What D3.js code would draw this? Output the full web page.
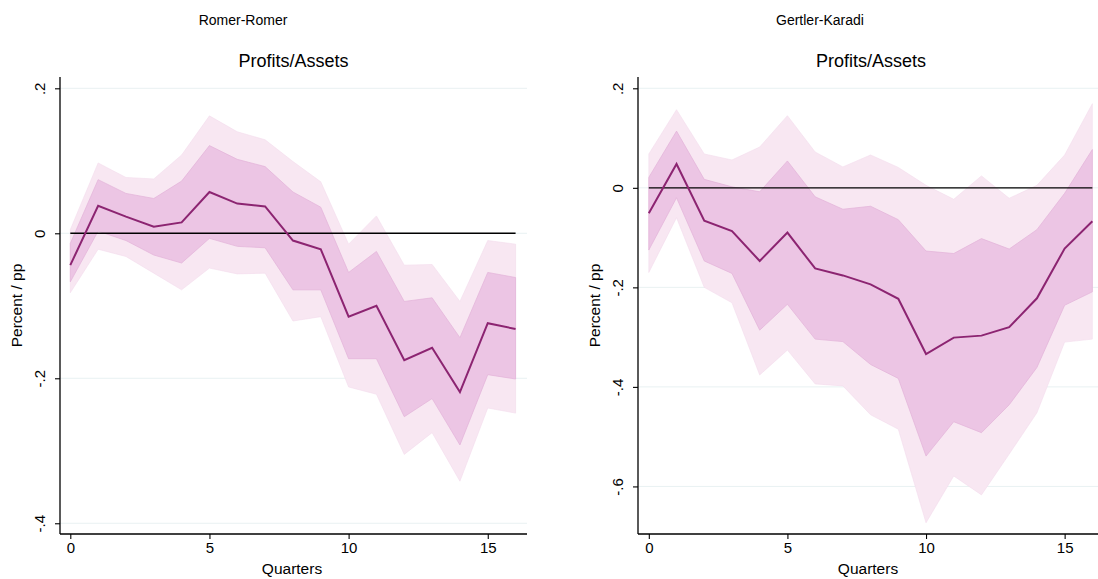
<!DOCTYPE html>
<html>
<head>
<meta charset="utf-8">
<script src="https://cdn.jsdelivr.net/npm/d3@7/dist/d3.min.js"></script>
<style>
  html, body { margin: 0; padding: 0; background: #fff; }
  svg { display: block; }
  text { font-family: "Liberation Sans", Arial, Helvetica, sans-serif; fill: #000; }
</style>
</head>
<body>
<svg id="chart" width="1098" height="579"></svg>
<script>
// Horizon in quarters
const quarters = [0, 1, 2, 3, 4, 5, 6, 7, 8, 9, 10, 11, 12, 13, 14, 15, 16];

// Romer-Romer shock: response of profits/assets
const rrPoint = [-0.044, 0.038, 0.023, 0.009, 0.015, 0.057, 0.041, 0.037, -0.010, -0.022, -0.115, -0.100, -0.175, -0.158, -0.219, -0.124, -0.132];
const rrHi68  = [-0.014, 0.074, 0.055, 0.048, 0.072, 0.121, 0.102, 0.092, 0.057, 0.036, -0.054, -0.025, -0.094, -0.089, -0.144, -0.054, -0.061];
const rrLo68  = [-0.067, 0.003, -0.010, -0.030, -0.041, -0.007, -0.018, -0.020, -0.078, -0.078, -0.173, -0.173, -0.253, -0.228, -0.292, -0.195, -0.201];
const rrHi90  = [0.005, 0.097, 0.077, 0.075, 0.108, 0.162, 0.140, 0.129, 0.099, 0.071, -0.015, 0.024, -0.044, -0.043, -0.094, -0.010, -0.015];
const rrLo90  = [-0.082, -0.022, -0.032, -0.055, -0.078, -0.048, -0.056, -0.055, -0.121, -0.115, -0.212, -0.222, -0.305, -0.275, -0.342, -0.241, -0.248];

// Gertler-Karadi shock: response of profits/assets
const gkPoint = [-0.051, 0.048, -0.066, -0.087, -0.147, -0.090, -0.162, -0.176, -0.194, -0.223, -0.334, -0.301, -0.297, -0.280, -0.222, -0.122, -0.067];
const gkHi68  = [0.021, 0.114, 0.017, 0.002, -0.008, 0.054, -0.018, -0.043, -0.037, -0.064, -0.127, -0.132, -0.102, -0.123, -0.084, -0.011, 0.077];
const gkLo68  = [-0.125, -0.020, -0.147, -0.172, -0.286, -0.234, -0.304, -0.309, -0.355, -0.383, -0.539, -0.470, -0.492, -0.436, -0.361, -0.236, -0.209];
const gkHi90  = [0.068, 0.157, 0.068, 0.056, 0.082, 0.145, 0.072, 0.042, 0.066, 0.041, 0.005, -0.023, 0.024, -0.021, 0.005, 0.066, 0.169];
const gkLo90  = [-0.170, -0.060, -0.200, -0.231, -0.376, -0.326, -0.394, -0.398, -0.456, -0.485, -0.673, -0.579, -0.617, -0.535, -0.452, -0.310, -0.304];

// Axis ticks and labels
const xTicks = [0, 5, 10, 15];
const rrYTicks = [0.2, 0, -0.2, -0.4];
const gkYTicks = [0.2, 0, -0.2, -0.4, -0.6];
const panelTitles = ["Romer-Romer", "Gertler-Karadi"];
const subTitle = "Profits/Assets";
const yLabel = "Percent / pp";
const xLabel = "Quarters";

const colors = {
  band90: "#f8e7f2",
  band68: "#ecc5e4",
  band68Edge: "#e2b2d8",
  line: "#8c2471",
  grid: "#e9f1f2",
  zero: "#000"
};

const svg = d3.select("#chart");

// Tick labels without the leading zero and with a plain hyphen (".2", "-.4")
const fmt = v => {
  if (v === 0) return "0";
  const body = Math.abs(v).toFixed(1).replace(/^0\./, ".");
  return (v < 0 ? "-" : "") + body;
};

function drawPanel(cfg) {
  const g = svg.append("g");
  const x = d3.scaleLinear().domain(cfg.xDomain).range([cfg.left, cfg.right]);
  const y = d3.scaleLinear().domain(cfg.yDomain).range([cfg.bottom, cfg.top]);

  // horizontal grid
  g.append("g").selectAll("line").data(cfg.yTicks).join("line")
    .attr("x1", cfg.left).attr("x2", cfg.right)
    .attr("y1", d => y(d)).attr("y2", d => y(d))
    .attr("stroke", colors.grid).attr("stroke-width", 1);

  const rows = quarters.map((q, i) => ({
    q, p: cfg.point[i], lo68: cfg.lo68[i], hi68: cfg.hi68[i], lo90: cfg.lo90[i], hi90: cfg.hi90[i]
  }));

  const area90 = d3.area().x(d => x(d.q)).y0(d => y(d.lo90)).y1(d => y(d.hi90));
  const area68 = d3.area().x(d => x(d.q)).y0(d => y(d.lo68)).y1(d => y(d.hi68));

  g.append("path").datum(rows).attr("d", area90)
    .attr("fill", colors.band90).attr("stroke", "#f3dbec").attr("stroke-width", 0.6);
  g.append("path").datum(rows).attr("d", area68)
    .attr("fill", colors.band68).attr("stroke", colors.band68Edge).attr("stroke-width", 0.7);

  // zero reference line
  g.append("line")
    .attr("x1", x(quarters[0])).attr("x2", x(quarters[quarters.length - 1]))
    .attr("y1", y(0)).attr("y2", y(0))
    .attr("stroke", colors.zero).attr("stroke-width", 1.4);

  // point estimate
  g.append("path").datum(rows)
    .attr("d", d3.line().x(d => x(d.q)).y(d => y(d.p)))
    .attr("fill", "none").attr("stroke", colors.line).attr("stroke-width", 2)
    .attr("stroke-linejoin", "miter");

  // y axis
  const yAxis = g.append("g").attr("transform", `translate(${cfg.left},0)`)
    .call(d3.axisLeft(y).tickValues(cfg.yTicks).tickFormat(fmt).tickSize(5).tickSizeOuter(0));
  yAxis.select(".domain").attr("stroke", "#000").attr("stroke-width", 1.3)
    .attr("d", `M0,${cfg.top}V${cfg.bottom}`);
  yAxis.selectAll(".tick line").attr("stroke", "#000").attr("stroke-width", 1.1);
  yAxis.selectAll(".tick text")
    .attr("font-size", 15).attr("x", null).attr("dy", null)
    .attr("text-anchor", "middle")
    .attr("transform", "translate(-15,0) rotate(-90)")
    .attr("fill", "#000");

  // x axis
  const xAxis = g.append("g").attr("transform", `translate(0,${cfg.bottom})`)
    .call(d3.axisBottom(x).tickValues(xTicks).tickFormat(d3.format("d")).tickSize(5).tickSizeOuter(0));
  xAxis.select(".domain").attr("stroke", "#000").attr("stroke-width", 1.3)
    .attr("d", `M${cfg.left},0H${cfg.right}`);
  xAxis.selectAll(".tick line").attr("stroke", "#000").attr("stroke-width", 1.1);
  xAxis.selectAll(".tick text").attr("font-size", 15).attr("y", 8).attr("fill", "#000");

  // titles and axis labels
  svg.append("text").attr("x", cfg.titleX).attr("y", 25)
    .attr("text-anchor", "middle").attr("font-size", 14).text(cfg.title);
  svg.append("text").attr("x", (cfg.left + cfg.right) / 2).attr("y", 67)
    .attr("text-anchor", "middle").attr("font-size", 18).text(subTitle);
  svg.append("text")
    .attr("transform", `translate(${cfg.left - 38},${(cfg.top + cfg.bottom) / 2}) rotate(-90)`)
    .attr("text-anchor", "middle").attr("font-size", 15.5).text(yLabel);
  svg.append("text").attr("x", cfg.xLabelX).attr("y", 574)
    .attr("text-anchor", "middle").attr("font-size", 15.5).text(xLabel);
}

drawPanel({
  title: panelTitles[0], titleX: 243, xLabelX: 292,
  left: 60, right: 527, top: 77, bottom: 534,
  xDomain: [-0.37, 16.41], yDomain: [-0.4148, 0.2156],
  yTicks: rrYTicks,
  point: rrPoint, lo68: rrLo68, hi68: rrHi68, lo90: rrLo90, hi90: rrHi90
});

drawPanel({
  title: panelTitles[1], titleX: 820, xLabelX: 868,
  left: 638, right: 1104, top: 77, bottom: 534,
  xDomain: [-0.39, 16.42], yDomain: [-0.6956, 0.2227],
  yTicks: gkYTicks,
  point: gkPoint, lo68: gkLo68, hi68: gkHi68, lo90: gkLo90, hi90: gkHi90
});
</script>
</body>
</html>
